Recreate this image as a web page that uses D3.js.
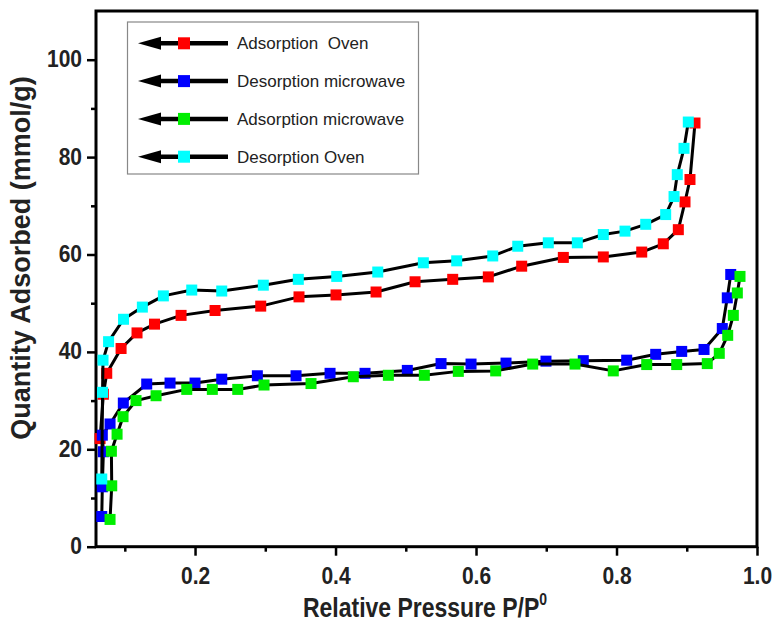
<!DOCTYPE html>
<html lang="en">
<head>
<meta charset="UTF-8">
<title>Isotherms</title>
<script src="https://cdn.jsdelivr.net/npm/d3@7/dist/d3.min.js"></script>
<style>
	body { margin: 0; background: #fff; }
	text { font-family: "Liberation Sans", Arial, sans-serif; fill: #222; }
	.tick text { font-weight: bold; }
</style>
</head>
<body>
<div id="chart"></div>
<script>
	// readings: relative pressure / quantity adsorbed
	var adsOvenX = [0.0648, 0.0695, 0.0743, 0.0947, 0.1174, 0.1423, 0.1801, 0.2285, 0.2935, 0.3480, 0.4007, 0.4577, 0.5132, 0.5668, 0.6175, 0.6650, 0.7243, 0.7812, 0.8359, 0.8666, 0.8880, 0.8975, 0.9046, 0.9117];
	var adsOvenY = [22.2, 31.3, 35.6, 40.7, 43.9, 45.7, 47.5, 48.5, 49.4, 51.3, 51.7, 52.3, 54.4, 54.9, 55.4, 57.6, 59.4, 59.5, 60.5, 62.2, 65.1, 70.8, 75.4, 87.0];

	var desMicroX = [0.0672, 0.0680, 0.0695, 0.0680, 0.0790, 0.0979, 0.1312, 0.1644, 0.2000, 0.2380, 0.2887, 0.3438, 0.3922, 0.4420, 0.5022, 0.5502, 0.5929, 0.6427, 0.6996, 0.7527, 0.8145, 0.8558, 0.8928, 0.9246, 0.9506, 0.9577, 0.9626];
	var desMicroY = [6.2, 12.3, 19.5, 22.9, 25.2, 29.5, 33.4, 33.6, 33.6, 34.4, 35.1, 35.1, 35.6, 35.6, 36.2, 37.6, 37.5, 37.7, 38.1, 38.2, 38.3, 39.5, 40.1, 40.5, 44.8, 51.1, 55.9];

	var adsMicroX = [0.0790, 0.0814, 0.0809, 0.0890, 0.0975, 0.1160, 0.1445, 0.1882, 0.2246, 0.2608, 0.2982, 0.3651, 0.4253, 0.4752, 0.5264, 0.5748, 0.6280, 0.6807, 0.7409, 0.7954, 0.8430, 0.8857, 0.9292, 0.9463, 0.9583, 0.9663, 0.9720, 0.9758];
	var adsMicroY = [5.6, 12.5, 19.6, 23.1, 26.7, 30.0, 31.0, 32.3, 32.3, 32.3, 33.2, 33.5, 34.9, 35.2, 35.2, 36.0, 36.1, 37.5, 37.5, 36.1, 37.4, 37.4, 37.6, 39.7, 43.4, 47.5, 52.1, 55.5];

	var desOvenX = [0.0672, 0.0683, 0.0690, 0.0769, 0.0982, 0.1250, 0.1549, 0.1953, 0.2380, 0.2972, 0.3470, 0.4017, 0.4601, 0.5250, 0.5725, 0.6238, 0.6594, 0.7029, 0.7442, 0.7812, 0.8121, 0.8416, 0.8700, 0.8819, 0.8865, 0.8961, 0.9022];
	var desOvenY = [13.9, 31.7, 38.3, 42.1, 46.7, 49.2, 51.5, 52.7, 52.5, 53.7, 54.9, 55.5, 56.4, 58.3, 58.7, 59.7, 61.7, 62.4, 62.4, 64.1, 64.8, 66.2, 68.2, 71.9, 76.4, 81.8, 87.2];

	var seriesNames = ["Adsorption  Oven", "Desorption microwave", "Adsorption microwave", "Desorption Oven"];
	var seriesColors = ["#ff0000", "#0000ff", "#00ee00", "#00ffff"];
	var seriesX = [adsOvenX, desMicroX, adsMicroX, desOvenX];
	var seriesY = [adsOvenY, desMicroY, adsMicroY, desOvenY];

	var xTicks = [0.2, 0.4, 0.6, 0.8, 1.0];
	var xMinor = [0.1, 0.3, 0.5, 0.7, 0.9];
	var yTicks = [0, 20, 40, 60, 80, 100];
	var yMinor = [10, 30, 50, 70, 90];

	var width = 774, height = 632;
	var plotL = 96, plotR = 757, plotT = 11, plotB = 546.7;

	var svg = d3.select("#chart").append("svg")
		.attr("width", width)
		.attr("height", height);

	var x = d3.scaleLinear().domain([0.059, 1.0]).range([plotL, plotR]);
	var y = d3.scaleLinear().domain([0, 110]).range([plotB, plotT]);

	// minor ticks first, then the labelled axes over them
	svg.append("g")
		.attr("transform", "translate(0," + plotB + ")")
		.call(d3.axisBottom(x).tickValues(xMinor).tickSize(5).tickFormat(""))
		.call(g => g.select(".domain").remove())
		.call(g => g.selectAll("line").attr("stroke", "#000").attr("stroke-width", 2.5));

	svg.append("g")
		.attr("transform", "translate(" + plotL + ",0)")
		.call(d3.axisLeft(y).tickValues(yMinor).tickSize(5).tickFormat(""))
		.call(g => g.select(".domain").remove())
		.call(g => g.selectAll("line").attr("stroke", "#000").attr("stroke-width", 2.5));

	var xAxis = svg.append("g")
		.attr("transform", "translate(0," + plotB + ")")
		.call(d3.axisBottom(x).tickValues(xTicks).tickSize(9).tickSizeOuter(0).tickFormat(d3.format(".1f")));
	xAxis.selectAll("line").attr("stroke", "#000").attr("stroke-width", 2.5);
	xAxis.selectAll("text")
		.attr("y", 0).attr("dy", 0)
		.attr("font-size", 21)
		.attr("transform", "translate(0,37) scale(1,1.17)");

	var yAxis = svg.append("g")
		.attr("transform", "translate(" + plotL + ",0)")
		.call(d3.axisLeft(y).tickValues(yTicks).tickSize(9).tickSizeOuter(0));
	yAxis.selectAll("line").attr("stroke", "#000").attr("stroke-width", 2.5);
	yAxis.selectAll("text")
		.attr("x", 0).attr("dy", 0)
		.attr("font-size", 21)
		.attr("transform", "translate(-14,7) scale(1,1.17)");
	svg.selectAll(".domain").remove();

	// frame
	svg.append("rect")
		.attr("x", plotL).attr("y", plotT)
		.attr("width", plotR - plotL).attr("height", plotB - plotT)
		.attr("fill", "none").attr("stroke", "#000").attr("stroke-width", 3);

	var line = d3.line()
		.x(d => x(d[0]))
		.y(d => y(d[1]));

	var msize = 11;
	seriesNames.forEach(function(name, i) {
		var pts = d3.zip(seriesX[i], seriesY[i]);
		svg.append("path")
			.datum(pts)
			.attr("d", line)
			.attr("fill", "none")
			.attr("stroke", "#000")
			.attr("stroke-width", 3)
			.attr("stroke-linejoin", "round");
		svg.append("g").selectAll("rect")
			.data(pts)
			.join("rect")
			.attr("x", d => x(d[0]) - msize / 2)
			.attr("y", d => y(d[1]) - msize / 2)
			.attr("width", msize).attr("height", msize)
			.attr("fill", seriesColors[i]);
	});

	// axis titles
	svg.append("text")
		.attr("transform", "translate(30,258) rotate(-90)")
		.attr("text-anchor", "middle")
		.attr("font-size", 27)
		.attr("font-weight", "bold")
		.text("Quantity Adsorbed (mmol/g)");

	var xt = svg.append("text")
		.attr("transform", "translate(425,617) scale(1,1.17)")
		.attr("text-anchor", "middle")
		.attr("font-size", 23)
		.attr("font-weight", "bold");
	xt.append("tspan").text("Relative Pressure P/P");
	xt.append("tspan").attr("font-size", 14).attr("dy", -10).text("0");

	// legend
	var legend = svg.append("g");
	legend.append("rect")
		.attr("x", 127.5).attr("y", 22)
		.attr("width", 291).attr("height", 152)
		.attr("fill", "#fff").attr("stroke", "#888").attr("stroke-width", 1.2);

	var legendY = d3.scalePoint().domain(seriesNames).range([43.3, 156.7]);
	seriesNames.forEach(function(name, i) {
		var cy = legendY(name);
		var g = legend.append("g");
		g.append("line")
			.attr("x1", 150).attr("x2", 228)
			.attr("y1", cy).attr("y2", cy)
			.attr("stroke", "#000").attr("stroke-width", 4.5);
		g.append("path")
			.attr("d", "M138," + cy + "L161," + (cy - 6.5) + "L161," + (cy + 6.5) + "Z")
			.attr("fill", "#000");
		g.append("rect")
			.attr("x", 184 - 6).attr("y", cy - 6)
			.attr("width", 12).attr("height", 12)
			.attr("fill", seriesColors[i]);
		g.append("text")
			.attr("x", 237).attr("y", cy + 6)
			.attr("font-size", 17)
			.style("white-space", "pre")
			.text(name);
	});
</script>
</body>
</html>
